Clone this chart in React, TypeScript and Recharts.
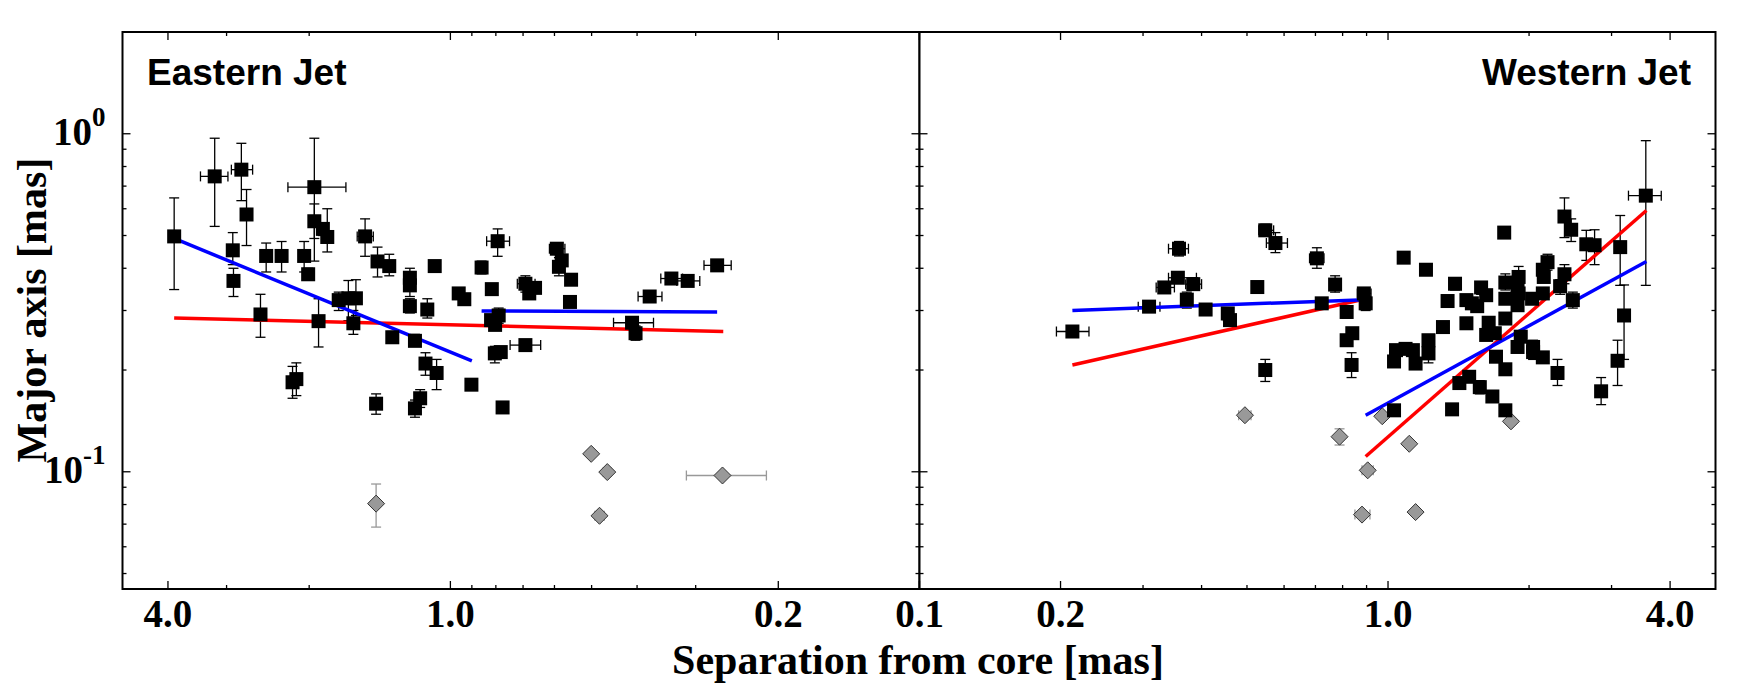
import React from 'react';
import { ScatterChart, Scatter, XAxis, YAxis, ErrorBar, ReferenceLine, ReferenceArea } from 'recharts';

// each point: [x, y, xLo, xHi, yLo, yHi]  (0 means no visible error bar)
const eastSquares = [
  [3.88, 0.497, 0, 0, 0.346, 0.646],
  [3.18, 0.748, 2.98, 3.41, 0.532, 0.97],
  [2.79, 0.783, 2.64, 2.93, 0.634, 0.937],
  [2.72, 0.577, 0, 0, 0.467, 0.684],
  [2.91, 0.452, 0, 0, 0.41, 0.51],
  [2.9, 0.367, 0, 0, 0.33, 0.4],
  [2.54, 0.292, 0, 0, 0.25, 0.335],
  [2.47, 0.435, 0, 0, 0.39, 0.475],
  [2.29, 0.435, 0, 0, 0.39, 0.48],
  [2.05, 0.435, 0, 0, 0.39, 0.48],
  [2.01, 0.384, 0, 0, 0.37, 0.4],
  [1.95, 0.695, 1.67, 2.22, 0.42, 0.97],
  [1.95, 0.551, 0, 0, 0.49, 0.62],
  [1.87, 0.523, 0, 0, 0.5, 0.545],
  [1.83, 0.495, 0, 0, 0.447, 0.6],
  [1.91, 0.279, 0, 0, 0.234, 0.325],
  [1.73, 0.322, 0, 0, 0.3, 0.34],
  [1.65, 0.326, 0, 0, 0.28, 0.368],
  [1.59, 0.326, 0, 0, 0.29, 0.37],
  [1.61, 0.275, 0, 0, 0.255, 0.3],
  [1.52, 0.497, 1.46, 1.58, 0.434, 0.56],
  [1.43, 0.419, 0, 0, 0.377, 0.462],
  [1.35, 0.406, 0, 0, 0.38, 0.44],
  [1.22, 0.375, 0, 0, 0.35, 0.4],
  [1.22, 0.356, 0, 0, 0.33, 0.38],
  [1.22, 0.309, 0, 0, 0.295, 0.325],
  [1.12, 0.302, 0, 0, 0.285, 0.325],
  [1.08, 0.406, 0, 0, 0.39, 0.42],
  [1.33, 0.25, 0, 0, 0.24, 0.26],
  [1.19, 0.244, 0, 0, 0.235, 0.255],
  [0.96, 0.337, 0.94, 0.98, 0, 0],
  [0.934, 0.324, 0.91, 0.96, 0, 0],
  [0.858, 0.402, 0, 0, 0.385, 0.42],
  [0.816, 0.347, 0, 0, 0, 0],
  [0.793, 0.481, 0.748, 0.837, 0.434, 0.523],
  [0.819, 0.281, 0, 0, 0.27, 0.29],
  [0.803, 0.272, 0, 0, 0, 0],
  [0.789, 0.29, 0, 0, 0.275, 0.305],
  [0.692, 0.36, 0.66, 0.72, 0.34, 0.38],
  [0.679, 0.337, 0, 0, 0, 0],
  [0.66, 0.35, 0.64, 0.68, 0, 0],
  [0.593, 0.457, 0.57, 0.615, 0, 0],
  [0.579, 0.422, 0, 0, 0, 0],
  [0.587, 0.404, 0, 0, 0.38, 0.43],
  [0.553, 0.37, 0, 0, 0, 0],
  [0.556, 0.318, 0, 0, 0, 0],
  [0.692, 0.237, 0.642, 0.746, 0, 0],
  [1.13, 0.209, 0, 0, 0.193, 0.225],
  [1.07, 0.196, 0, 0, 0.175, 0.215],
  [0.902, 0.181, 0, 0, 0, 0],
  [0.804, 0.224, 0, 0, 0.21, 0.235],
  [0.781, 0.226, 0, 0, 0, 0],
  [0.774, 0.155, 0, 0, 0, 0],
  [2.17, 0.184, 0, 0, 0.165, 0.205],
  [2.13, 0.188, 0, 0, 0.168, 0.21],
  [1.44, 0.159, 0, 0, 0.148, 0.17],
  [1.19, 0.154, 0, 0, 0.145, 0.163],
  [1.16, 0.165, 0, 0, 0.155, 0.175],
  [0.338, 0.373, 0.32, 0.356, 0, 0],
  [0.312, 0.367, 0.294, 0.329, 0, 0],
  [0.27, 0.408, 0.252, 0.288, 0, 0],
  [0.376, 0.33, 0.354, 0.398, 0, 0],
  [0.41, 0.276, 0.369, 0.449, 0, 0],
  [0.403, 0.257, 0, 0, 0.245, 0.27],
];

const eastDiamonds = [
  [1.44, 0.0805, 0, 0, 0.0686, 0.092],
  [0.501, 0.113, 0, 0, 0, 0],
  [0.463, 0.0998, 0.455, 0.472, 0, 0],
  [0.481, 0.0741, 0.47, 0.492, 0, 0],
  [0.263, 0.0975, 0.212, 0.314, 0, 0],
];

const westSquares = [
  [0.212, 0.26, 0.196, 0.23, 0, 0],
  [0.309, 0.308, 0.293, 0.326, 0, 0],
  [0.358, 0.457, 0.34, 0.375, 0.435, 0.48],
  [0.333, 0.351, 0.32, 0.35, 0, 0],
  [0.356, 0.375, 0.34, 0.39, 0, 0],
  [0.384, 0.359, 0.37, 0.4, 0.345, 0.375],
  [0.372, 0.323, 0, 0, 0.305, 0.34],
  [0.408, 0.302, 0, 0, 0, 0],
  [0.455, 0.294, 0, 0, 0.28, 0.305],
  [0.46, 0.281, 0, 0, 0, 0],
  [0.526, 0.352, 0, 0, 0, 0],
  [0.547, 0.518, 0.53, 0.57, 0.5, 0.54],
  [0.575, 0.475, 0.55, 0.61, 0.445, 0.51],
  [0.705, 0.428, 0.68, 0.73, 0.4, 0.46],
  [0.771, 0.358, 0, 0, 0.34, 0.38],
  [0.722, 0.315, 0, 0, 0, 0],
  [0.888, 0.337, 0.86, 0.92, 0, 0],
  [0.896, 0.315, 0, 0, 0.3, 0.33],
  [0.816, 0.297, 0, 0, 0.285, 0.31],
  [0.839, 0.257, 0, 0, 0, 0],
  [0.816, 0.245, 0, 0, 0, 0],
  [0.836, 0.207, 0, 0, 0.19, 0.225],
  [0.547, 0.2, 0, 0, 0.185, 0.215],
  [1.08, 0.43, 0, 0, 0, 0],
  [1.205, 0.396, 0, 0, 0, 0],
  [1.39, 0.36, 0, 0, 0.345, 0.375],
  [1.34, 0.32, 0, 0, 0, 0],
  [1.47, 0.322, 0, 0, 0, 0],
  [1.51, 0.315, 0, 0, 0, 0],
  [1.55, 0.309, 0, 0, 0, 0],
  [1.58, 0.351, 0, 0, 0.335, 0.365],
  [1.62, 0.333, 0, 0, 0, 0],
  [1.77, 0.51, 0, 0, 0.495, 0.525],
  [1.78, 0.363, 0, 0, 0.345, 0.385],
  [1.78, 0.325, 0, 0, 0, 0],
  [1.9, 0.377, 0, 0, 0.355, 0.405],
  [1.89, 0.352, 0, 0, 0, 0],
  [1.9, 0.337, 0, 0, 0, 0],
  [1.89, 0.311, 0, 0, 0, 0],
  [1.78, 0.284, 0, 0, 0, 0],
  [2.03, 0.325, 0, 0, 0, 0],
  [2.14, 0.396, 0, 0, 0, 0],
  [2.19, 0.417, 0, 0, 0.395, 0.44],
  [2.15, 0.377, 0, 0, 0, 0],
  [2.14, 0.337, 0, 0, 0, 0],
  [2.38, 0.569, 0, 0, 0.493, 0.646],
  [2.46, 0.52, 0, 0, 0.48, 0.56],
  [2.38, 0.384, 0, 0, 0.36, 0.41],
  [2.33, 0.354, 0, 0, 0.335, 0.37],
  [2.48, 0.322, 0, 0, 0.305, 0.34],
  [2.65, 0.471, 0, 0, 0.422, 0.518],
  [2.76, 0.468, 0, 0, 0.41, 0.52],
  [3.13, 0.462, 0, 0, 0.356, 0.573],
  [3.19, 0.29, 0, 0, 0.215, 0.357],
  [3.55, 0.656, 3.26, 3.83, 0.356, 0.954],
  [1.22, 0.245, 0, 0, 0, 0],
  [1.31, 0.268, 0, 0, 0.258, 0.278],
  [1.47, 0.275, 0, 0, 0.265, 0.285],
  [1.64, 0.276, 0, 0, 0, 0],
  [1.62, 0.254, 0, 0, 0, 0],
  [1.69, 0.257, 0, 0, 0, 0],
  [1.92, 0.251, 0, 0, 0, 0],
  [2.04, 0.234, 0, 0, 0.225, 0.245],
  [1.04, 0.229, 0, 0, 0, 0],
  [1.03, 0.212, 0, 0, 0, 0],
  [1.09, 0.231, 0, 0, 0, 0],
  [1.13, 0.229, 0, 0, 0, 0],
  [1.145, 0.209, 0, 0, 0, 0],
  [1.22, 0.224, 0, 0, 0.21, 0.24],
  [1.03, 0.152, 0, 0, 0, 0],
  [1.37, 0.153, 0, 0, 0, 0],
  [1.42, 0.183, 0, 0, 0, 0],
  [1.49, 0.191, 0, 0, 0, 0],
  [1.57, 0.178, 0, 0, 0.17, 0.186],
  [1.67, 0.167, 0, 0, 0, 0],
  [1.78, 0.152, 0, 0, 0, 0],
  [1.78, 0.201, 0, 0, 0, 0],
  [1.7, 0.219, 0, 0, 0, 0],
  [1.89, 0.234, 0, 0, 0, 0],
  [2.04, 0.226, 0, 0, 0.215, 0.24],
  [2.14, 0.218, 0, 0, 0, 0],
  [2.3, 0.196, 0, 0, 0.18, 0.215],
  [2.85, 0.173, 0, 0, 0.158, 0.19],
  [3.09, 0.213, 0, 0, 0.18, 0.245],
];

const westDiamonds = [
  [0.495, 0.147, 0.48, 0.51, 0, 0],
  [0.788, 0.127, 0, 0, 0.12, 0.134],
  [0.972, 0.146, 0, 0, 0, 0],
  [0.905, 0.101, 0.88, 0.93, 0, 0],
  [0.88, 0.0747, 0.85, 0.915, 0, 0],
  [1.11, 0.121, 0, 0, 0, 0],
  [1.145, 0.076, 0, 0, 0, 0],
  [1.83, 0.141, 0, 0, 0, 0],
];

// power-law fits, end points [[x1, y1], [x2, y2]]
const eastBlueFits = [
  [[3.88, 0.49], [0.9, 0.213]],
  [[0.858, 0.299], [0.27, 0.297]],
];
const eastRedFits = [[[3.88, 0.285], [0.262, 0.26]]];
const westBlueFits = [
  [[0.212, 0.3], [0.896, 0.323]],
  [[0.896, 0.147], [3.56, 0.419]],
];
const westRedFits = [
  [[0.212, 0.207], [0.896, 0.325]],
  [[0.896, 0.111], [3.56, 0.593]],
];

const xTicks = [0.1, 0.2, 0.3, 0.4, 0.5, 0.6, 0.7, 0.8, 0.9, 1, 2, 3, 4];
const xMajor = [0.1, 0.2, 1, 4];
const eastXLabels = ['', '0.2', '1.0', '4.0'];
const westXLabels = ['0.1', '0.2', '1.0', '4.0'];
const yTicks = [0.05, 0.06, 0.07, 0.08, 0.09, 0.1, 0.2, 0.3, 0.4, 0.5, 0.6, 0.7, 0.8, 0.9, 1];
const yMajor = [0.1, 1];
const yExponents = ['-1', '0'];

const PLOT_H = 557;
const SERIF = "'Liberation Serif', 'Times New Roman', serif";
const SANS = "'Liberation Sans', Arial, sans-serif";

const toRows = (pts) =>
  pts.map(([x, y, xl, xh, yl, yh]) => ({
    x,
    y,
    ex: xl ? [x - xl, xh - x] : [0, 0],
    ey: yl ? [y - yl, yh - y] : [0, 0],
  }));

const Square = (p) => <rect x={p.cx - 7} y={p.cy - 7} width={14} height={14} fill="#000" />;
const Diamond = (p) => (
  <polygon
    points={`${p.cx},${p.cy - 8.5} ${p.cx + 8.5},${p.cy} ${p.cx},${p.cy + 8.5} ${p.cx - 8.5},${p.cy}`}
    fill="#999"
    stroke="#333"
    strokeWidth={1}
  />
);

const makeXTick = (labels) => (props) => {
  const { x, y, payload } = props;
  const idx = xMajor.indexOf(payload.value);
  const len = idx >= 0 ? 8 : 4;
  const top = y - PLOT_H;
  return (
    <g>
      <line x1={x} y1={y} x2={x} y2={y - len} stroke="#000" strokeWidth={1.3} />
      <line x1={x} y1={top} x2={x} y2={top + len} stroke="#000" strokeWidth={1.3} />
      {idx >= 0 && labels[idx] ? (
        <text x={x} y={y + 38} textAnchor="middle" fontFamily={SERIF} fontWeight="bold" fontSize={39} fill="#000">
          {labels[idx]}
        </text>
      ) : null}
    </g>
  );
};

const makeYTick = (plotW, showLabels) => (props) => {
  const { x, y, payload } = props;
  const idx = yMajor.indexOf(payload.value);
  const len = idx >= 0 ? 8 : 4;
  const right = x + plotW;
  return (
    <g>
      <line x1={x} y1={y} x2={x + len} y2={y} stroke="#000" strokeWidth={1.3} />
      <line x1={right} y1={y} x2={right - len} y2={y} stroke="#000" strokeWidth={1.3} />
      {showLabels && idx >= 0 ? (
        <text x={x - 17} y={y + 11} textAnchor="end" fontFamily={SERIF} fontWeight="bold" fill="#000">
          <tspan fontSize={39}>10</tspan>
          <tspan fontSize={27} dy={-19}>{yExponents[idx]}</tspan>
        </text>
      ) : null}
    </g>
  );
};

const Panel = ({ squares, diamonds, blue, red, reversed, labels, showYLabels, width, margin, yWidth, plotW }) => (
  <ScatterChart width={width} height={699} margin={margin}>
    <XAxis
      dataKey="x"
      type="number"
      scale="log"
      domain={[0.1, 5]}
      allowDataOverflow
      reversed={reversed}
      ticks={xTicks}
      interval={0}
      tickSize={0}
      tickMargin={0}
      axisLine={false}
      tickLine={false}
      height={30}
      tick={makeXTick(labels)}
    />
    <YAxis
      dataKey="y"
      type="number"
      scale="log"
      domain={[0.045, 2]}
      allowDataOverflow
      ticks={yTicks}
      interval={0}
      tickSize={0}
      tickMargin={0}
      axisLine={false}
      tickLine={false}
      width={yWidth}
      tick={makeYTick(plotW, showYLabels)}
    />
    <ReferenceArea x1={0.1} x2={5} y1={0.045} y2={2} fill="#fff" fillOpacity={0} stroke="#000" strokeWidth={2} ifOverflow="visible" />
    <Scatter data={toRows(diamonds)} shape={Diamond} isAnimationActive={false}>
      <ErrorBar dataKey="ey" direction="y" width={5} stroke="#999" strokeWidth={1.3} />
      <ErrorBar dataKey="ex" direction="x" width={5} stroke="#999" strokeWidth={1.3} />
    </Scatter>
    <Scatter data={toRows(squares)} shape={Square} isAnimationActive={false}>
      <ErrorBar dataKey="ey" direction="y" width={5} stroke="#000" strokeWidth={1.3} />
      <ErrorBar dataKey="ex" direction="x" width={5} stroke="#000" strokeWidth={1.3} />
    </Scatter>
    {red.map((s, i) => (
      <ReferenceLine
        key={`r${i}`}
        segment={[{ x: s[0][0], y: s[0][1] }, { x: s[1][0], y: s[1][1] }]}
        stroke="#ff0000"
        strokeWidth={3.5}
        ifOverflow="visible"
      />
    ))}
    {blue.map((s, i) => (
      <ReferenceLine
        key={`b${i}`}
        segment={[{ x: s[0][0], y: s[0][1] }, { x: s[1][0], y: s[1][1] }]}
        stroke="#0000ff"
        strokeWidth={3.5}
        ifOverflow="visible"
      />
    ))}
  </ScatterChart>
);

export default function App() {
  return (
    <div style={{ position: 'absolute', left: 0, top: 0, width: 1754, height: 699, background: '#fff' }}>
      <div style={{ position: 'absolute', left: 0, top: 0 }}>
        <Panel
          squares={eastSquares}
          diamonds={eastDiamonds}
          blue={eastBlueFits}
          red={eastRedFits}
          reversed
          labels={eastXLabels}
          showYLabels
          width={920}
          margin={{ top: 32, right: 0.5, bottom: 80, left: 22.5 }}
          yWidth={100}
          plotW={797}
        />
      </div>
      <div style={{ position: 'absolute', left: 870, top: 0 }}>
        <Panel
          squares={westSquares}
          diamonds={westDiamonds}
          blue={westBlueFits}
          red={westRedFits}
          reversed={false}
          labels={westXLabels}
          showYLabels={false}
          width={884}
          margin={{ top: 32, right: 38.5, bottom: 80, left: 48.5 }}
          yWidth={1}
          plotW={796}
        />
      </div>
      <svg width={1754} height={699} style={{ position: 'absolute', left: 0, top: 0, pointerEvents: 'none' }}>
        <text x={147} y={85} fontFamily={SANS} fontWeight="bold" fontSize={37} fill="#000">Eastern Jet</text>
        <text x={1691} y={85} textAnchor="end" fontFamily={SANS} fontWeight="bold" fontSize={37} fill="#000">Western Jet</text>
        <text x={918} y={674} textAnchor="middle" fontFamily={SERIF} fontWeight="bold" fontSize={42} fill="#000">
          Separation from core [mas]
        </text>
        <text x={46} y={310} textAnchor="middle" transform="rotate(-90 46 310)" fontFamily={SERIF} fontWeight="bold" fontSize={42} fill="#000">
          Major axis [mas]
        </text>
      </svg>
    </div>
  );
}
